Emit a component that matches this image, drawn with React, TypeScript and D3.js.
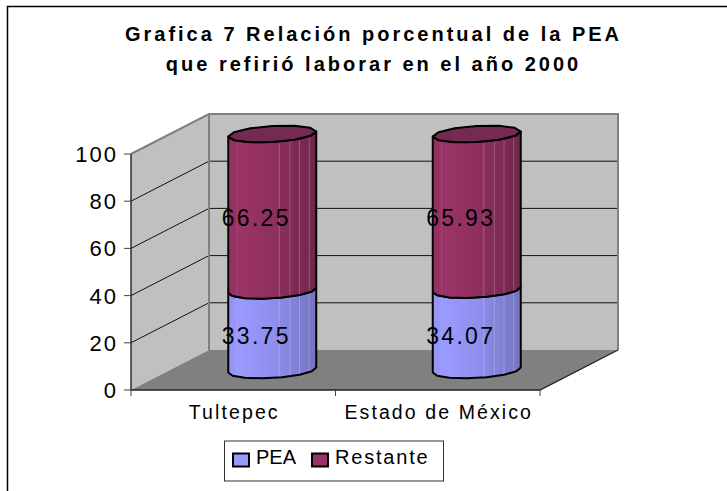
import React from "react";
import * as d3 from "d3";

const categories = ["Tultepec", "Estado de México"];
const seriesNames = ["PEA", "Restante"];
const peaValues = [33.75, 34.07];
const restanteValues = [66.25, 65.93];
const yTicks = [0, 20, 40, 60, 80, 100];
const titleLines = [
  "Grafica 7 Relación porcentual de la PEA",
  "que refirió laborar en el año 2000",
];

const font = "'Liberation Sans', Arial, sans-serif";
const left = 131;
const right = 540;
const bottom = 390;
const top = 154;
const depthX = 78;
const depthY = 40;
const barRx = 44;
const barRy = 8;
const tilt = 2.5;
const stripes = [-0.8, 0.16, 0.4, 0.62, 0.84];

const colors = { PEA: "#9999ff", Restante: "#993366", RestanteTop: "#752a52" };

const y = d3.scaleLinear().domain([0, 100]).range([bottom, top]);
const x = d3.scaleBand().domain(categories).range([left, right]);

const ellipsePoint = (cx: number, cy: number, t: number): [number, number] => [
  cx + barRx * Math.cos(t),
  cy + barRy * Math.sin(t) - tilt * Math.cos(t),
];

// cylinder rings are rough polygons in the original
const ring = (cx: number, cy: number, from: number, to: number, n = 7) =>
  d3.range(n + 1).map((i) => ellipsePoint(cx, cy, from + ((to - from) * i) / n));

const line = d3.line();

function Segment({ cx, v0, v1, fill }: { cx: number; v0: number; v1: number; fill: string }) {
  const cy0 = y(v0) - depthY / 2;
  const cy1 = y(v1) - depthY / 2;
  const pts = [...ring(cx, cy0, Math.PI, 0), ...ring(cx, cy1, 0, Math.PI)];
  return (
    <g>
      <path d={line(pts) + "Z"} fill={`url(#${fill})`} stroke="#000" strokeWidth={2} strokeLinejoin="round" />
      {stripes.map((s) => {
        const t = Math.acos(s);
        const a = ellipsePoint(cx, cy0, t);
        const b = ellipsePoint(cx, cy1, t);
        return (
          <line key={s} x1={a[0]} x2={b[0]} y1={a[1] - 1} y2={b[1] + 1} stroke="#fff"
            strokeOpacity={s < 0 ? 0.1 : 0.22} />
        );
      })}
    </g>
  );
}

export default function App() {
  return (
    <svg width={727} height={491} style={{ position: "absolute", left: 0, top: 0 }} fontFamily={font}>
      <defs>
        <linearGradient id="gradPea">
          <stop offset="0" stopColor="#9393f5" />
          <stop offset="0.15" stopColor="#9a9aff" />
          <stop offset="0.55" stopColor="#8d8deb" />
          <stop offset="1" stopColor="#7474c0" />
        </linearGradient>
        <linearGradient id="gradRest">
          <stop offset="0" stopColor="#92315f" />
          <stop offset="0.15" stopColor="#9b3467" />
          <stop offset="0.55" stopColor="#8c2f5e" />
          <stop offset="1" stopColor="#72264c" />
        </linearGradient>
      </defs>

      <path d="M7.5,491V6.5H727" fill="none" stroke="#000" strokeWidth={1.5} />

      {/* titulo */}
      {titleLines.map((t, i) => (
        <text key={t} x={373.5} y={41 + i * 29.5} textAnchor="middle" fontSize={20} fontWeight="bold"
          letterSpacing={3}>
          {t}
        </text>
      ))}

      {/* paredes y piso */}
      <polygon
        points={`${left},${top} ${left + depthX},${top - depthY} ${left + depthX},${bottom - depthY} ${left},${bottom}`}
        fill="#c0c0c0" />
      <rect x={left + depthX} y={top - depthY} width={right - left} height={bottom - top} fill="#c0c0c0" />
      <polygon
        points={`${left},${bottom} ${left + depthX},${bottom - depthY} ${right + depthX},${bottom - depthY} ${right},${bottom}`}
        fill="#808080" />

      {yTicks.filter((v) => v > 0 && v < 100).map((v) => (
        <path key={v} d={`M${left},${y(v)}L${left + depthX},${y(v) - depthY}H${right + depthX}`}
          fill="none" stroke="#111" />
      ))}
      <path d={`M${left},${top}L${left + depthX},${top - depthY}H${right + depthX}V${bottom - depthY}`}
        fill="none" stroke="#808080" strokeWidth={2} />
      <path d={`M${left + depthX},${top - depthY}V${bottom - depthY}`} stroke="#808080" strokeWidth={2} />

      {/* ejes */}
      <path d={`M${left},${top}V${bottom}H${right}L${right + depthX},${bottom - depthY}`} fill="none" stroke="#222" strokeWidth={1.4} />
      {yTicks.map((v) => (
        <g key={v}>
          <line x1={left - 7} x2={left} y1={y(v)} y2={y(v)} stroke="#444" />
          <text x={left - 13} y={y(v) + 8} textAnchor="end" fontSize={22} letterSpacing={2}>{v}</text>
        </g>
      ))}
      {[left, left + x.bandwidth(), right].map((p) => (
        <line key={p} x1={p} x2={p} y1={bottom} y2={bottom + 6} stroke="#444" />
      ))}
      {categories.map((c) => (
        <text key={c} x={x(c)! + x.bandwidth() / 2 + 1} y={418.5} textAnchor="middle" fontSize={19.5} letterSpacing={2.1}>{c}</text>
      ))}

      {/* cilindros */}
      {categories.map((c, i) => {
        const cx = x(c)! + x.bandwidth() / 2 + depthX / 2;
        const pea = peaValues[i];
        const total = pea + restanteValues[i];
        const labelX = cx - 16;
        return (
          <g key={c}>
            <Segment cx={cx} v0={0} v1={pea} fill="gradPea" />
            <Segment cx={cx} v0={pea} v1={total} fill="gradRest" />
            <path d={line(ring(cx, y(total) - depthY / 2, 0, 2 * Math.PI, 12)) + "Z"}
              fill={colors.RestanteTop} stroke="#000" strokeWidth={2} strokeLinejoin="round" />
            <text x={labelX} y={y(pea / 2) - 6} textAnchor="middle" fontSize={23} letterSpacing={2.3}>
              {pea.toFixed(2)}
            </text>
            <text x={labelX} y={y(pea + restanteValues[i] / 2) - 6} textAnchor="middle" fontSize={23} letterSpacing={2.3}>
              {restanteValues[i].toFixed(2)}
            </text>
          </g>
        );
      })}

      {/* leyenda */}
      <rect x={224.5} y={441} width={219} height={40} fill="#fff" stroke="#333" />
      <rect x={233} y={453.5} width={16} height={13} fill={colors.PEA} stroke="#000" strokeWidth={2} />
      <text x={256} y={464} fontSize={20}>{seriesNames[0]}</text>
      <rect x={312} y={453.5} width={16} height={13} fill={colors.Restante} stroke="#000" strokeWidth={2} />
      <text x={335} y={464} fontSize={20} letterSpacing={1.8}>{seriesNames[1]}</text>
    </svg>
  );
}
